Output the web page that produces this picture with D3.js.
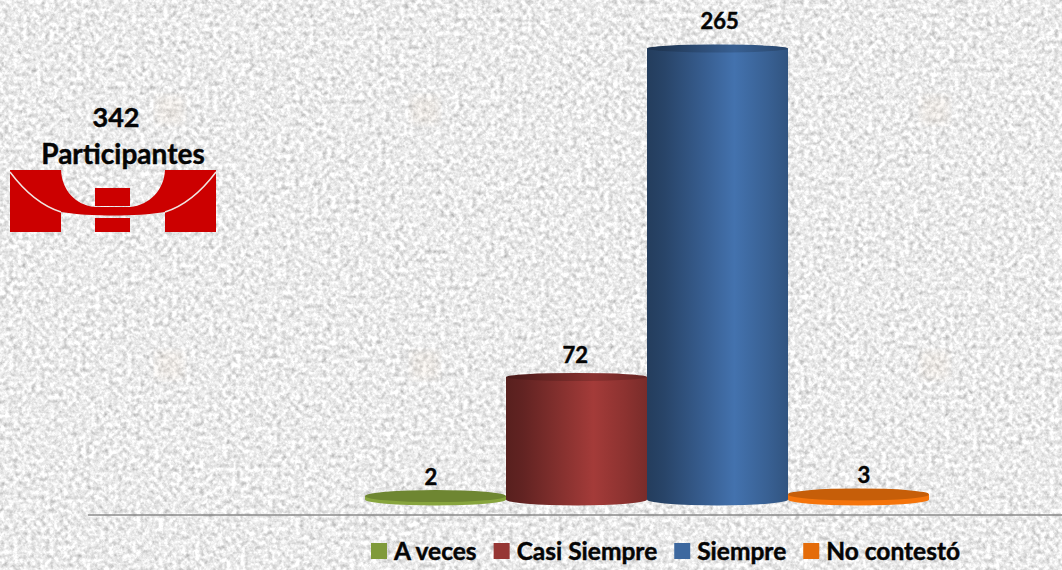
<!DOCTYPE html>
<html>
<head>
<meta charset="utf-8">
<script src="https://cdn.jsdelivr.net/npm/d3@7"></script>
<style>
  html, body { margin: 0; padding: 0; background: #ececec; overflow: hidden; }
  svg { display: block; }
  text { font-family: Lato, "Open Sans", sans-serif; font-weight: 700; fill: #050505; stroke: #050505; stroke-width: 0.45; }
</style>
</head>
<body>
<svg id="chart" width="1062" height="570"></svg>
<script>
const categories = ["A veces", "Casi Siempre", "Siempre", "No contestó"];
const values = [2, 72, 265, 3];
const baseColors = ["#7f9a3a", "#963634", "#3d689f", "#e46c0a"];
const totalLabel = ["342", "Participantes"];

const WIDTH = 1062;
const HEIGHT = 570;
const BASE_Y = 499.5;
const CAP_RY = 6;

const svg = d3.select("#chart");
const defs = svg.append("defs");

// marble-ish paper background
const noise = defs.append("filter").attr("id", "paper")
  .attr("x", 0).attr("y", 0).attr("width", "100%").attr("height", "100%")
  .attr("color-interpolation-filters", "sRGB");
noise.append("feTurbulence")
  .attr("type", "fractalNoise")
  .attr("baseFrequency", 0.22)
  .attr("numOctaves", 3)
  .attr("seed", 7);
noise.append("feColorMatrix")
  .attr("type", "matrix")
  .attr("values", "0.42 0.22 0 0 0.6  0.42 0.22 0 0 0.6  0.42 0.22 0 0 0.6  0 0 0 0 1");
noise.append("feGaussianBlur").attr("stdDeviation", 0.7);

svg.append("rect")
  .attr("width", WIDTH).attr("height", HEIGHT)
  .attr("filter", "url(#paper)");

// faint repeating marks in the background tile
defs.append("filter").attr("id", "soft").append("feGaussianBlur").attr("stdDeviation", 4);
svg.append("g").selectAll("rect")
  .data(d3.cross([170, 425, 680, 935], [110, 365]))
  .join("rect")
  .attr("x", d => d[0] - 14).attr("y", d => d[1] - 14)
  .attr("width", 28).attr("height", 28)
  .attr("fill", "#e8cdb0").attr("opacity", 0.13)
  .attr("filter", "url(#soft)");

const x = d3.scaleBand().domain(categories).range([365, 929]).padding(0);
const y = d3.scaleLinear().domain([0, 265]).range([BASE_Y, 48.5]);
// the labels sit on their own, slightly narrower spacing
const labelX = d3.scalePoint().domain(categories).range([431, 864]);
const labelY = d3.scaleLinear().domain([0, 265]).range([488, 29]);

// baseline
svg.append("line")
  .attr("x1", 88).attr("x2", WIDTH)
  .attr("y1", 515).attr("y2", 515)
  .attr("stroke", "#8a8a8a").attr("stroke-width", 1.6);

// one horizontal gradient per cylinder
categories.forEach((c, i) => {
  const col = d3.color(baseColors[i]);
  const g = defs.append("linearGradient").attr("id", "cyl" + i);
  const stops = [[0, col.darker(1.5)], [0.12, col.darker(1.2)], [0.4, col.darker(0.3)], [0.62, col.brighter(0.25)], [0.85, col.darker(0.2)], [1, col.darker(0.6)]];
  stops.forEach(s => g.append("stop").attr("offset", s[0]).attr("stop-color", s[1]));
});

const cyl = svg.append("g").selectAll("g")
  .data(categories)
  .join("g");

cyl.append("path")
  .attr("d", (d, i) => {
    const x0 = x(d), rx = x.bandwidth() / 2, top = y(values[i]);
    return `M${x0},${top}L${x0},${BASE_Y}A${rx},${CAP_RY} 0 0 0 ${x0 + 2 * rx},${BASE_Y}L${x0 + 2 * rx},${top}Z`;
  })
  .attr("fill", (d, i) => values[i] < 10 ? d3.color(baseColors[i]).brighter(0.2) : `url(#cyl${i})`);

cyl.append("ellipse")
  .attr("cx", d => x(d) + x.bandwidth() / 2)
  .attr("cy", (d, i) => y(values[i]))
  .attr("rx", x.bandwidth() / 2)
  .attr("ry", (d, i) => values[i] < 10 ? CAP_RY : 4)
  .attr("fill", (d, i) => values[i] < 10 ? d3.color(baseColors[i]).darker(0.4) : `url(#cyl${i})`);

// darker rim on the tall bars' caps
cyl.filter((d, i) => values[i] >= 10).append("ellipse")
  .attr("cx", d => x(d) + x.bandwidth() / 2)
  .attr("cy", d => y(values[categories.indexOf(d)]))
  .attr("rx", x.bandwidth() / 2)
  .attr("ry", 4)
  .attr("fill", "#000").attr("opacity", 0.16);

// value labels
svg.append("g").selectAll("text")
  .data(categories)
  .join("text")
  .attr("x", d => labelX(d))
  .attr("y", (d, i) => labelY(values[i]))
  .attr("text-anchor", "middle")
  .attr("font-size", 22)
  .text((d, i) => values[i]);

// legend, laid out from the measured text widths
let lx = 371;
const legend = svg.append("g");
categories.forEach((c, i) => {
  legend.append("rect")
    .attr("x", lx).attr("y", 543)
    .attr("width", 16).attr("height", 16)
    .attr("fill", baseColors[i]);
  const t = legend.append("text")
    .attr("x", lx + 23).attr("y", 560)
    .attr("font-size", 24.5)
    .text(c);
  lx += 23 + t.node().getComputedTextLength() + 17;
});

// total
svg.append("text").attr("x", 116).attr("y", 127)
  .attr("text-anchor", "middle").attr("font-size", 27).text(totalLabel[0]);
svg.append("text").attr("x", 123).attr("y", 164)
  .attr("text-anchor", "middle").attr("font-size", 28).text(totalLabel[1]);

// red logo
const logo = svg.append("g").attr("fill", "#cc0000");
logo.append("path").attr("d",
  "M10,170H61C62,190 75,205 95,207H130C150,205 164,190 165,170H216V232H165V212C151,214.5 131,215.5 113,215.5C95,215.5 75,214.5 61,212V232H10Z");
logo.append("rect").attr("x", 95).attr("y", 188).attr("width", 35).attr("height", 18);
logo.append("rect").attr("x", 95).attr("y", 218).attr("width", 35).attr("height", 14);
svg.append("path")
  .attr("d", "M10,172C25,192 42,206 61,212M165,212C184,206 201,192 216,172")
  .attr("fill", "none").attr("stroke", "#f0e4e0").attr("stroke-width", 1.5);
</script>
</body>
</html>
